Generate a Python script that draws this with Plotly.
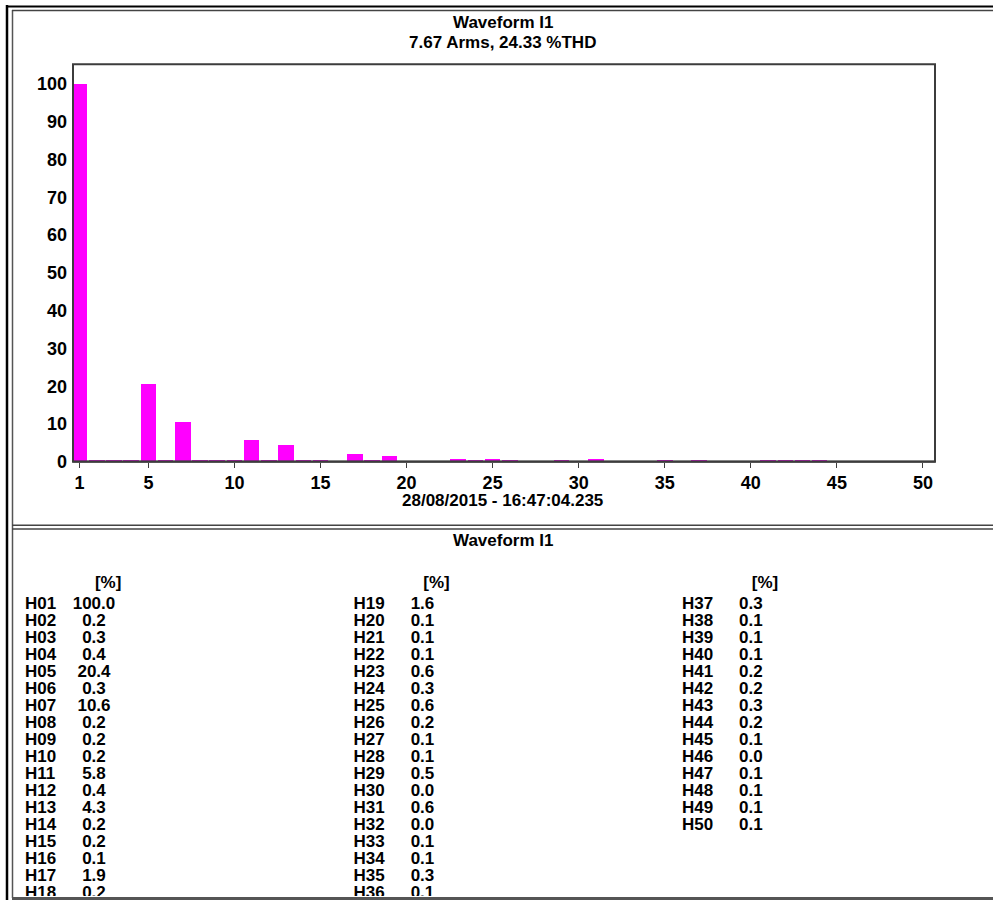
import plotly.graph_objects as go

# harmonic spectrum of waveform I1 (percent of fundamental)
harmonics = list(range(1, 51))
percent = [100.0, 0.2, 0.3, 0.4, 20.4, 0.3, 10.6, 0.2, 0.2, 0.2,
           5.8, 0.4, 4.3, 0.2, 0.2, 0.1, 1.9, 0.2, 1.6, 0.1,
           0.1, 0.1, 0.6, 0.3, 0.6, 0.2, 0.1, 0.1, 0.5, 0.0,
           0.6, 0.0, 0.1, 0.1, 0.3, 0.1, 0.3, 0.1, 0.1, 0.1,
           0.2, 0.2, 0.3, 0.2, 0.1, 0.0, 0.1, 0.1, 0.1, 0.1]
labels = ['H%02d' % h for h in harmonics]
x_ticks = [1, 5, 10, 15, 20, 25, 30, 35, 40, 45, 50]
y_ticks = [0, 10, 20, 30, 40, 50, 60, 70, 80, 90, 100]

chart_title = 'Waveform I1'
chart_subtitle = '7.67 Arms, 24.33 %THD'
timestamp = '28/08/2015 - 16:47:04.235'
unit_header = '[%]'

W, H = 993, 910
FONT = 'Liberation Sans, Arial, sans-serif'
ROWS = 18


def px(x):
    return x / W


def py(y):
    return 1 - y / H


# table layout: 3 columns of 18 rows
cols = [(h - 1) // ROWS for h in harmonics]
rows = [(h - 1) % ROWS for h in harmonics]
values_txt = ['%.1f' % v for v in percent]

fig = go.Figure()

fig.add_trace(go.Bar(
    x=harmonics, y=percent, width=0.9,
    marker=dict(color='#ff00ff', line=dict(width=0)),
    xaxis='x', yaxis='y', showlegend=False,
))

tfont = dict(family=FONT, size=17, color='#000000', weight='bold')
fig.add_trace(go.Scatter(
    x=cols, y=rows, text=labels, mode='text', textposition='middle right',
    textfont=tfont, cliponaxis=True, xaxis='x2', yaxis='y2', showlegend=False,
))
fig.add_trace(go.Scatter(
    x=[c + 0.21 for c in cols], y=rows, text=values_txt, mode='text',
    textposition='middle center', textfont=tfont, cliponaxis=True,
    xaxis='x2', yaxis='y2', showlegend=False,
))
fig.add_trace(go.Scatter(
    x=[0.253, 1.253, 2.253], y=[-1.22] * 3, text=[unit_header] * 3, mode='text',
    textposition='middle center', textfont=tfont, cliponaxis=True,
    xaxis='x2', yaxis='y2', showlegend=False,
))

axcol = '#3c3c3c'
tickfont = dict(family=FONT, size=18, color='#000000', weight='bold')
fig.update_layout(
    width=W, height=H,
    margin=dict(l=0, r=0, t=0, b=0),
    paper_bgcolor='white', plot_bgcolor='white',
    bargap=0,
    xaxis=dict(domain=[px(73), px(935)], range=[0.62, 50.7],
               tickvals=x_ticks, ticks='outside', ticklen=5, tickwidth=1,
               tickcolor=axcol, tickfont=tickfont, ticklabelstandoff=0,
               showgrid=False, zeroline=False, showline=False,
               fixedrange=True),
    yaxis=dict(domain=[py(467), py(65)], range=[0, 105.2],
               tickvals=y_ticks, ticks='', tickfont=tickfont,
               ticklabelstandoff=5, showgrid=False, zeroline=False,
               showline=False, fixedrange=True),
    xaxis2=dict(domain=[px(12), 1], range=[-0.0396, 2.947], visible=False,
                fixedrange=True),
    yaxis2=dict(domain=[py(906), py(536)], range=[17.15, -4.36],
                visible=False, fixedrange=True),
)

# plot frame drawn over the bars, like the instrument software does
fig.add_shape(type='rect', xref='x domain', yref='y domain',
              x0=0, x1=1, y0=0, y1=1, layer='above',
              line=dict(color=axcol, width=2))
fig.add_shape(type='line', xref='x domain', yref='y domain',
              x0=0, x1=1, y0=0.001, y1=0.001, layer='above',
              line=dict(color=axcol, width=2))

afont = dict(family=FONT, size=17, color='#000000', weight='bold')
for txt, y in [(chart_title, 23), (chart_subtitle, 43), (timestamp, 506),
               (chart_title, 547)]:
    fig.add_annotation(text=txt, x=px(503), y=py(y), xref='paper', yref='paper',
                       showarrow=False, font=afont, xanchor='center',
                       yanchor='middle')

# window frame lines
frame = [
    (7, 5, 7, 910, '#000000', 2.5),
    (12.5, 10, 12.5, 908, '#555555', 1.5),
    (6, 6.5, 993, 6.5, '#000000', 2),
    (12, 10.5, 993, 10.5, '#444444', 1.5),
    (12, 531, 993, 531, '#444444', 1.5),
    (12, 535, 993, 535, '#444444', 1.5),
    (12, 908.5, 993, 908.5, '#555555', 3),
]
for x0, y0, x1, y1, c, w in frame:
    fig.add_shape(type='line', xref='paper', yref='paper',
                  x0=px(x0), y0=py(y0), x1=px(x1), y1=py(y1),
                  line=dict(color=c, width=w))

fig.write_html('out.html',
               config={'displayModeBar': False},
               post_script="document.body.style.margin='0';"
                           "document.body.style.overflow='hidden';")
